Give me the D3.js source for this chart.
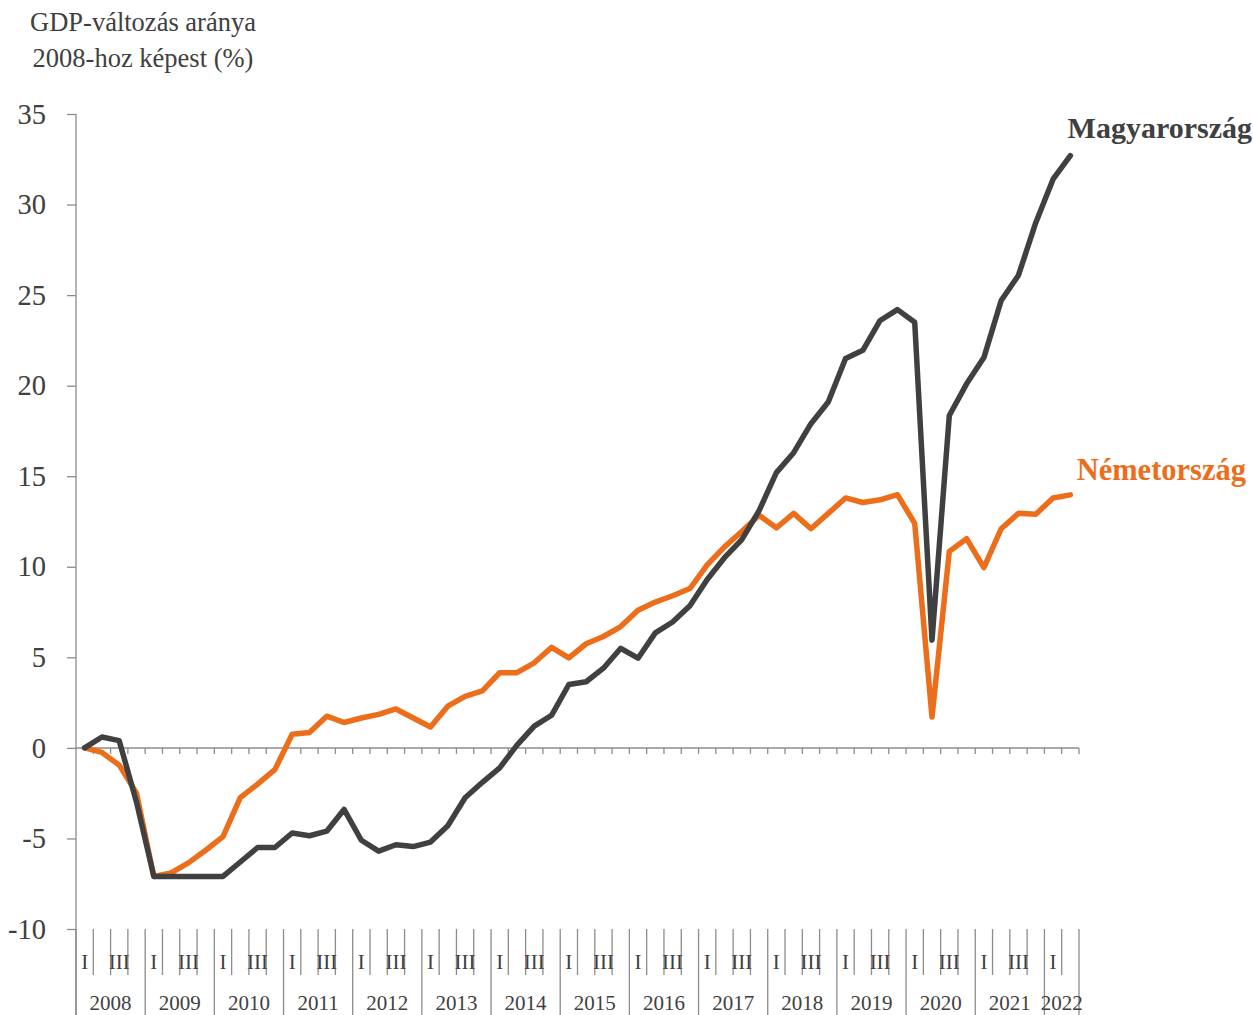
<!DOCTYPE html>
<html>
<head>
<meta charset="utf-8">
<script src="https://cdn.jsdelivr.net/npm/d3@7"></script>
<style>
  body { margin: 0; background: #fff; }
  svg text { font-family: "Palatino Linotype", "Book Antiqua", "Liberation Serif", serif; }
</style>
</head>
<body>
<div id="chart"></div>
<script>
// quarters 2008Q1 .. 2022Q2
const years = d3.range(2008, 2023)
const quarters = years.flatMap((y) => (y < 2022 ? [1, 2, 3, 4] : [1, 2]).map((q) => `${y}Q${q}`))
const quarterLabels = ["I", "", "III", ""]

const hungary = [
  0, 0.6, 0.4, -3.0, -7.1, -7.1, -7.1, -7.1, -7.1, -6.3,
  -5.5, -5.5, -4.7, -4.85, -4.6, -3.4, -5.1, -5.7, -5.35, -5.45,
  -5.2, -4.3, -2.75, -1.9, -1.1, 0.15, 1.2, 1.8, 3.5, 3.65,
  4.4, 5.5, 4.95, 6.35, 6.95, 7.85, 9.3, 10.5, 11.5, 13.1,
  15.2, 16.3, 17.9, 19.1, 21.5, 21.95, 23.6, 24.2, 23.5, 5.95,
  18.35, 20.1, 21.55, 24.7, 26.1, 29.0, 31.4, 32.7
]
const germany = [
  0, -0.25, -0.95, -2.5, -7.1, -6.9, -6.35, -5.65, -4.9, -2.75,
  -2.0, -1.2, 0.75, 0.85, 1.75, 1.4, 1.65, 1.85, 2.15, 1.65,
  1.15, 2.3, 2.85, 3.15, 4.15, 4.15, 4.7, 5.55, 4.97, 5.75,
  6.15, 6.7, 7.6, 8.05, 8.4, 8.8, 10.1, 11.1, 11.95, 12.85,
  12.15, 12.95, 12.1, 12.95, 13.8, 13.55, 13.7, 13.98, 12.4, 1.7,
  10.85, 11.55, 9.95, 12.1, 12.95, 12.9, 13.8, 13.97
]
const yTicks = d3.range(-10, 40, 5)
const series = [
  { name: "Magyarország", values: hungary, color: "#404040" },
  { name: "Németország", values: germany, color: "#EC6E1A" },
]

const W = 1253, H = 1015
const m = { left: 76, right: 1079, top: 114, bottom: 929 }

const svg = d3.select("#chart").append("svg").attr("width", W).attr("height", H)

const x = d3.scaleBand().domain(quarters).range([m.left, m.right]).padding(0)
const y = d3.scaleLinear().domain([-10, 35]).range([m.bottom, m.top])
const cx = (q) => x(q) + x.bandwidth() / 2
const axisColor = "#8c8c8c"
const textColor = "#404040"
const fontStack = '"Palatino Linotype", "Book Antiqua", "Liberation Serif", serif'

// title
svg.append("text")
  .attr("x", 143).attr("y", 31)
  .attr("text-anchor", "middle").attr("font-size", 26.5).attr("fill", textColor)
  .selectAll("tspan")
  .data(["GDP-változás aránya", "2008-hoz képest (%)"])
  .join("tspan")
  .attr("x", 143).attr("dy", (d, i) => (i ? 36 : 0))
  .text((d) => d)

// y axis
const yAxis = svg.append("g")
  .attr("transform", `translate(${m.left},0)`)
  .call(d3.axisLeft(y).tickValues(yTicks).tickSize(9).tickPadding(21).tickFormat(d3.format("d")))
yAxis.select(".domain").remove()
yAxis.selectAll(".tick line").attr("stroke", axisColor).attr("stroke-width", 1.3)
yAxis.selectAll(".tick text")
  .attr("font-size", 28.5).attr("fill", textColor)
  .style("font-family", fontStack)
  .text((d) => (d < 0 ? "-" + Math.abs(d) : d))
svg.append("line")
  .attr("x1", m.left).attr("x2", m.left).attr("y1", m.top).attr("y2", H)
  .attr("stroke", axisColor).attr("stroke-width", 1.3)

// zero line with ticks
const boundaries = quarters.map((q) => x(q)).concat([m.right])
svg.append("line")
  .attr("x1", m.left).attr("x2", m.right).attr("y1", y(0)).attr("y2", y(0))
  .attr("stroke", axisColor).attr("stroke-width", 1.5)
svg.append("g").selectAll("line")
  .data(boundaries.slice(1))
  .join("line")
  .attr("x1", (d) => d).attr("x2", (d) => d)
  .attr("y1", y(0)).attr("y2", y(0) + 6)
  .attr("stroke", axisColor).attr("stroke-width", 1.3)

// category axis below the plot
const catG = svg.append("g")
catG.selectAll("line")
  .data(boundaries.map((b, i) => ({ b, i })))
  .join("line")
  .attr("x1", (d) => d.b).attr("x2", (d) => d.b)
  .attr("y1", m.bottom)
  .attr("y2", (d) => (d.i % 4 === 0 || d.i === quarters.length ? H : 975))
  .attr("stroke", axisColor).attr("stroke-width", 1.3)
catG.selectAll("text.q")
  .data(quarters)
  .join("text")
  .attr("class", "q")
  .attr("x", (d) => cx(d)).attr("y", 969)
  .attr("text-anchor", "middle").attr("font-size", 21).attr("fill", textColor)
  .text((d, i) => quarterLabels[i % 4])
catG.selectAll("text.yr")
  .data(years)
  .join("text")
  .attr("class", "yr")
  .attr("x", (d) => {
    const qs = quarters.filter((q) => q.startsWith(d))
    return (x(qs[0]) + x(qs[qs.length - 1]) + x.bandwidth()) / 2
  })
  .attr("y", 1010)
  .attr("text-anchor", "middle").attr("font-size", 21).attr("fill", textColor)
  .text((d) => d)

// lines
const line = d3.line().x((d, i) => cx(quarters[i])).y((d) => y(d))
svg.selectAll("path.series")
  .data(series.slice().reverse())
  .join("path")
  .attr("class", "series")
  .attr("d", (d) => line(d.values))
  .attr("fill", "none")
  .attr("stroke", (d) => d.color)
  .attr("stroke-width", 5.5)
  .attr("stroke-linejoin", "round")
  .attr("stroke-linecap", "round")

// series labels
svg.append("text")
  .attr("x", 1252).attr("y", 138)
  .attr("text-anchor", "end").attr("font-size", 30).attr("font-weight", "bold")
  .attr("fill", series[0].color).text(series[0].name)
svg.append("text")
  .attr("x", 1246).attr("y", 480)
  .attr("text-anchor", "end").attr("font-size", 30.5).attr("font-weight", "bold")
  .attr("fill", series[1].color).text(series[1].name)
</script>
</body>
</html>
